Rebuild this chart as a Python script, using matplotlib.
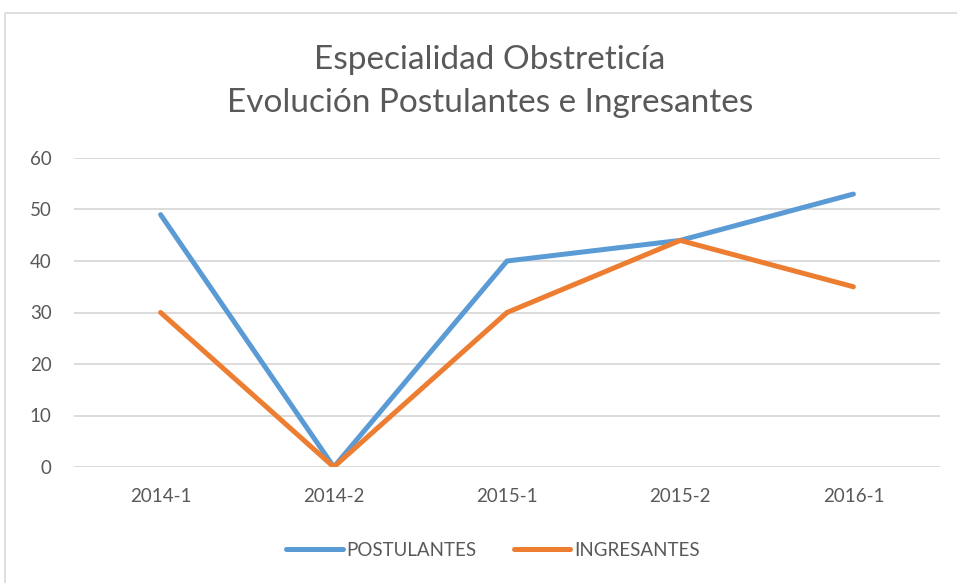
import matplotlib
matplotlib.use("Agg")
import matplotlib.pyplot as plt
from matplotlib.patches import Rectangle

categories = ["2014-1", "2014-2", "2015-1", "2015-2", "2016-1"]
postulantes = [49, 0, 40, 44, 53]
ingresantes = [30, 0, 30, 44, 35]
yticks = [0, 10, 20, 30, 40, 50, 60]

plt.rcParams['font.family'] = ['Lato', 'DejaVu Sans']
txt = '#595959'

fig = plt.figure(figsize=(9.57, 5.83), dpi=100)
fig.patches.append(Rectangle((5/957, -0.1), 1.0, 1 - 13/583 + 0.1, transform=fig.transFigure,
                             fill=False, edgecolor='#D9D9D9', linewidth=1.2))
ax = fig.add_axes([74/957, 1 - 467/583, 866/957, 309/583])

x = list(range(len(categories)))
ax.plot(x, postulantes, color='#5B9BD5', linewidth=3.6, solid_capstyle='round', label='POSTULANTES', zorder=3)
ax.plot(x, ingresantes, color='#ED7D31', linewidth=3.6, solid_capstyle='round', label='INGRESANTES', zorder=3)

ax.set_xlim(-0.5, len(categories) - 0.5)
ax.set_ylim(0, 60)
ax.set_yticks(yticks)
ax.set_xticks(x)
ax.set_xticklabels(categories)
ax.grid(axis='y', color='#D9D9D9', linewidth=1.3)
ax.set_axisbelow(True)
for s in ax.spines.values():
    s.set_visible(False)
ax.tick_params(length=0, labelsize=13.5, colors=txt)
ax.tick_params(axis='x', pad=15)
ax.tick_params(axis='y', pad=16)

fig.text(490/957, 1 - 60/583, "Especialidad Obstreticía", ha='center', va='center', fontsize=24, color=txt)
fig.text(490/957, 1 - 103/583, "Evolución Postulantes e Ingresantes", ha='center', va='center', fontsize=24, color=txt)

leg = fig.legend(loc='center', bbox_to_anchor=(493/957, 1 - 550/583), ncol=2, frameon=False,
                 fontsize=13.5, handlelength=3.0, handletextpad=0.2, columnspacing=2.0)
for t in leg.get_texts():
    t.set_color(txt)

fig.savefig("out.png", dpi=100)
